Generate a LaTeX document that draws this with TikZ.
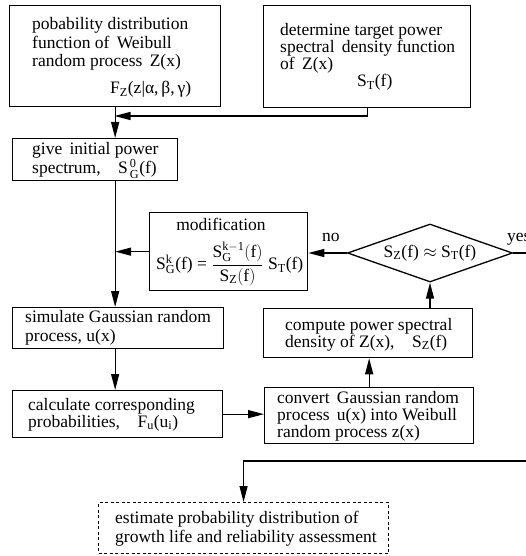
\documentclass[tikz,border=0pt]{standalone}
\usepackage{fontspec}
\setmainfont{Liberation Serif}
\setmathrm{Liberation Serif}
\usetikzlibrary{arrows.meta,shapes.geometric}

\newcommand{\tr}[1]{\mathrm{#1}}

\tikzset{
  box/.style={draw, line width=1.3pt, inner sep=0pt, anchor=north west},
  % multi-line labels are placed by the baseline of their last line
  lbl/.style={anchor=base west, inner sep=0pt, align=left},
  flow/.style={line width=1.3pt, -{Triangle[length=16pt,width=8pt]}},
}

\begin{document}
\begin{tikzpicture}[x=1pt, y=-1pt, font=\fontsize{17.5}{18.5}\selectfont]
\useasboundingbox (0,0) rectangle (525,556);

% process boxes
\node[box, minimum width=211pt, minimum height=101pt] (pdf) at (9,5) {};
\node[box, minimum width=207pt, minimum height=102pt] (target) at (263,5) {};
\node[box, minimum width=165pt, minimum height=42pt] (give) at (12,138) {};
\node[box, minimum width=158pt, minimum height=78pt] (mod) at (149,212) {};
\node[box, minimum width=211pt, minimum height=41pt] (sim) at (12,307) {};
\node[box, minimum width=210pt, minimum height=47pt] (calc) at (12,390) {};
\node[box, minimum width=209pt, minimum height=49pt] (comp) at (263,308) {};
\node[box, minimum width=209pt, minimum height=56pt] (conv) at (264,387) {};
\node[box, dashed, dash pattern=on 3pt off 2.5pt, line width=1.1pt, minimum width=290pt, minimum height=51pt] (est) at (98,502) {};

% decision
\node[draw, line width=1.3pt, diamond, aspect=2.85, inner sep=0pt,
      minimum width=165pt, minimum height=58pt] (dec) at (430,253)
      {S$_{\tr Z}$(f) $\approx$ S$_{\tr T}$(f)};

% box texts
\node[lbl] (tpdf) at (32,94) {pobability distribution\\function of\, Weibull\\random process\, Z(x)\\[8.5pt]\hspace*{78pt}F$_{\tr Z}$(z|α,\,β,\,γ)};
\node[lbl, font=\fontsize{17.5}{17}\selectfont] (ttarget) at (280,87) {determine target power\\spectral\, density function\\of\, Z(x)\\\hspace*{77pt}S$_{\tr T}$(f)};
\node[lbl, font=\fontsize{17.5}{17.5}\selectfont] (tgive) at (32,174) {give\, initial power\\spectrum,\quad S$^{\,\tr 0}_{\,\tr G}$(f)};
\node[anchor=base, inner sep=0pt] (tmodt) at (221,230) {modification};
\node[anchor=west, inner sep=0pt] (tmodf) at (156,264)
  {S$^{\tr k}_{\tr G}$(f) = $\displaystyle\frac{\tr{S}^{\tr{k-1}}_{\tr G}(\tr f)}{\tr{S}_{\tr Z}(\tr f)}$ S$_{\tr T}$(f)};
\node[lbl, font=\fontsize{17.5}{19}\selectfont] (tsim) at (25,341) {simulate Gaussian random\\process, u(x)};
\node[lbl, font=\fontsize{17.5}{17}\selectfont] (tcalc) at (28,427) {calculate corresponding\\probabilities,\quad F$_{\tr u}$(u$_{\tr i}$)};
\node[lbl, font=\fontsize{17.5}{17}\selectfont] (tcomp) at (285,347) {compute power spectral\\density of Z(x),\quad S$_{\tr Z}$(f)};
\node[lbl, font=\fontsize{17.5}{17}\selectfont] (tconv) at (277,437) {convert\, Gaussian random\\process\, u(x) into Weibull\\random process z(x)};
\node[lbl, font=\fontsize{17.5}{19}\selectfont] (test) at (115,542) {estimate probability distribution of\\growth life and reliability assessment};

% branch labels
\node[lbl] (lno) at (322,241) {no};
\node[lbl] (lyes) at (507,241) {yes};

% connectors
\coordinate (j1) at (114.5,116);
\coordinate (turn) at (535,461);
\draw[flow] (pdf.south) -- (pdf.south |- give.north);
\draw[flow] (target.south) |- (j1);
\draw[flow] (pdf.south |- give.south) -- (pdf.south |- sim.north);
\draw[flow] (mod.west) -- (mod.west -| pdf.south);
\draw[flow] (dec.west) -- (dec.west -| mod.east);
\draw[flow] (dec.east) -| (turn) -| (est.north);
\draw[flow] (comp.north -| dec.south) -- (dec.south);
\draw[flow] (conv.north) -- (conv.north |- comp.south);
\draw[flow] (pdf.south |- sim.south) -- (pdf.south |- calc.north);
\draw[flow] (calc.east) -- (calc.east -| conv.west);
\end{tikzpicture}
\end{document}
